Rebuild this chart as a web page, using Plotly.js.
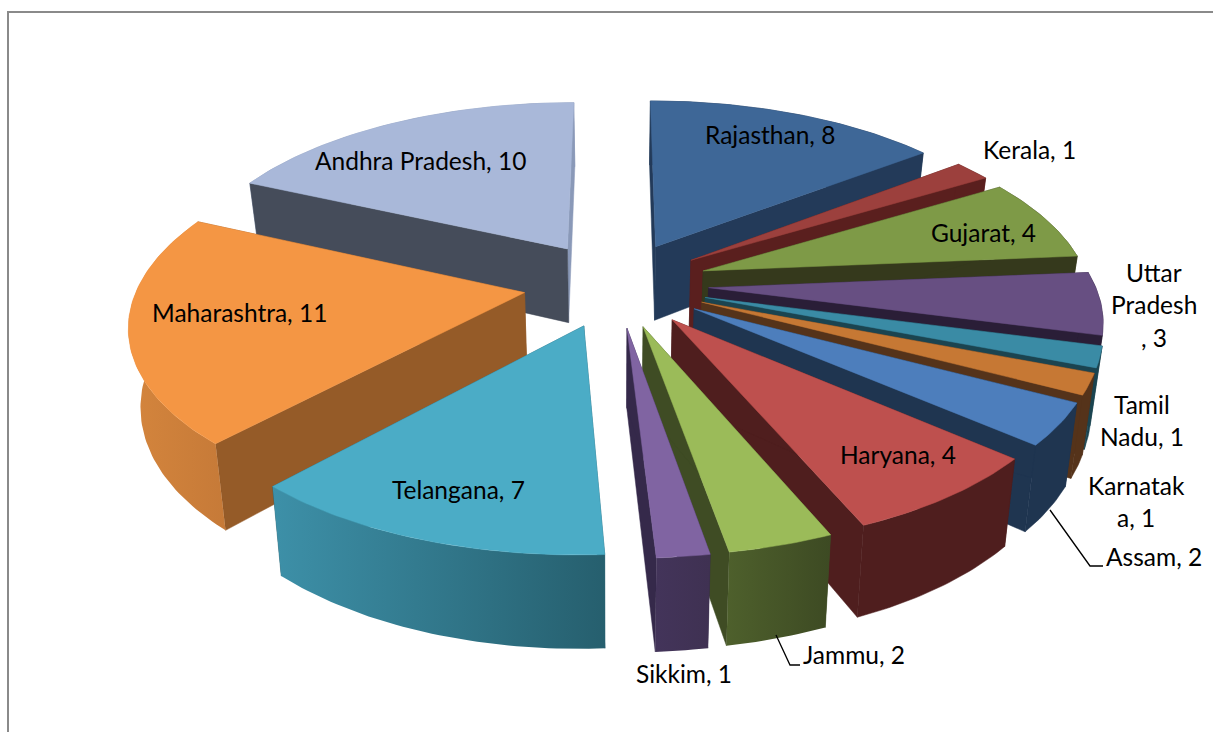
<!DOCTYPE html>
<html>
<head>
<meta charset="utf-8">
<script src="https://cdn.plot.ly/plotly-3.0.1.min.js"></script>
<style>html,body{margin:0;padding:0;background:#fff}#chart{width:1213px;height:732px}</style>
</head>
<body>
<div id="chart"></div>
<script>
// --- data ---
const states = ["Rajasthan","Kerala","Gujarat","Uttar Pradesh","Tamil Nadu","Karnataka","Assam","Haryana","Jammu","Sikkim","Telangana","Maharashtra","Andhra Pradesh"];
const counts = [8,1,4,3,1,1,2,4,2,1,7,11,10];

// --- style ---
const topColors  = ["#3E6797","#9C403D","#7E9A47","#674F82","#3A8BA5","#C67834","#4D7EBC","#BE504E","#9BBB59","#8064A2","#4BACC6","#F49644","#A9B8D9"];
const sideColors = ["#233A59","#5A1F1E","#35391C","#2A1E37","#1B4450","#55331A","#1F3550","#4F1E1E","#3F4C24","#35294A","#265F6E","#955B28","#454C5A"];
const endColors  = ["#233A59","#5A1F1E","#35391C","#2A1E37","#1B4450","#55331A","#1F3550","#4F1E1E","#3F4C24","#35294A","#265F6E","#955B28","#8A99B8"];
const rimLeft    = ["#233A59","#5A1F1E","#35391C","#2A1E37","#1B4450","#55331A","#1F3550","#4F1E1E","#4E602C","#43345A","#3D90A8","#D4853D","#8A99B8"];
const rimRight   = ["#233A59","#5A1F1E","#35391C","#2A1E37","#1B4450","#55331A","#1F3550","#4F1E1E","#3D4A23","#3F3152","#265F6E","#C67A38","#8A99B8"];

// --- projection of the tilted pie ---
const cx = 616, cy = 284, Rx = 386, Ry = 179, persp = 0.155, depth = 76, pull = 0.24, bottomShrink = 0.975;
const rad = d => d * Math.PI / 180;
const total = counts.reduce((a, b) => a + b, 0);

function project(r, deg, midDeg, z) {
  const u = pull * Math.sin(rad(midDeg)) + r * Math.sin(rad(deg));
  const v = pull * Math.cos(rad(midDeg)) + r * Math.cos(rad(deg));
  const s = 1 / (1 + persp * v);
  const k = z ? bottomShrink : 1;
  return [cx + u * Rx * s * k, cy - v * Ry * s + (z ? depth * s : 0)];
}
function poly(name, pts, color, gradient) {
  const t = {
    type: "scatter", mode: "lines", name: name, hoverinfo: "name", showlegend: false,
    x: pts.map(p => p[0]).concat(pts[0][0]), y: pts.map(p => p[1]).concat(pts[0][1]),
    fill: "toself", line: {width: 0.5, color: color}, fillcolor: color
  };
  if (gradient && gradient[0] !== gradient[1]) {
    t.fillgradient = {type: "horizontal", colorscale: [[0, gradient[0]], [1, gradient[1]]]};
    t.line = {width: 0};
    delete t.fillcolor;
  }
  return t;
}

let acc = 0;
const slices = counts.map((c, i) => {
  const start = acc / total * 360; acc += c;
  const end = acc / total * 360;
  return {i, start, end, mid: (start + end) / 2};
});
const order = slices.slice().sort((a, b) => Math.cos(rad(b.mid)) - Math.cos(rad(a.mid)));

const traces = [];
order.forEach(sl => {
  const name = states[sl.i];
  const arc = z => {
    const out = [], n = Math.max(4, Math.ceil(sl.end - sl.start));
    for (let j = 0; j <= n; j++) out.push(project(1, sl.start + (sl.end - sl.start) * j / n, sl.mid, z));
    return out;
  };
  const apexT = project(0, 0, sl.mid, 0), apexB = project(0, 0, sl.mid, 1);
  const arcT = arc(0), arcB = arc(1);
  const rim = poly(name, arcT.concat(arcB.slice().reverse()), rimLeft[sl.i], [rimLeft[sl.i], rimRight[sl.i]]);
  const backHalf = Math.cos(rad(sl.mid)) > 0;
  if (backHalf) traces.push(rim);
  traces.push(poly(name, [apexT, arcT[arcT.length - 1], arcB[arcB.length - 1], apexB], endColors[sl.i]));
  traces.push(poly(name, [apexT, arcT[0], arcB[0], apexB], sideColors[sl.i]));
  if (!backHalf) traces.push(rim);
  traces.push(poly(name, [apexT].concat(arcT), topColors[sl.i]));
});

// --- labels: one anchor per printed line ---
const labelLines = [
  ["Rajasthan, 8"],["Kerala, 1"],["Gujarat, 4"],["Uttar","Pradesh",", 3"],["Tamil","Nadu, 1"],["Karnatak","a, 1"],
  ["Assam, 2"],["Haryana, 4"],["Jammu, 2"],["Sikkim, 1"],["Telangana, 7"],["Maharashtra, 11"],["Andhra Pradesh, 10"]
];
const labelX = [770,1029,983,1154,1142,1136,1154,898,854,684,458,239,420];
const labelY = [134,149,232,272,404,485,556,454,654,673,489,312,160];
const lineGap = 32.5;
const annotations = [];
labelLines.forEach((lines, i) => lines.forEach((txt, j) => annotations.push({
  x: labelX[i], y: labelY[i] + j * lineGap, xref: "x", yref: "y", text: txt, showarrow: false,
  xanchor: "center", yanchor: "middle", font: {family: "Lato, Carlito, sans-serif", size: 24.5, color: "#000"}
})));

// leader lines
[[[1050,1090,1103],[510,566,566]], [[776,790,800],[635,665,665]]].forEach(l => traces.push({
  type: "scatter", mode: "lines", x: l[0], y: l[1], hoverinfo: "skip", showlegend: false, line: {color: "#000", width: 1.3}
}));

const layout = {
  width: 1213, height: 732, margin: {l: 0, r: 0, t: 0, b: 0}, showlegend: false,
  paper_bgcolor: "#fff", plot_bgcolor: "#fff",
  xaxis: {range: [0, 1213], visible: false, fixedrange: true},
  yaxis: {range: [732, 0], visible: false, fixedrange: true},
  annotations: annotations,
  shapes: [
    {type: "line", xref: "x", yref: "y", x0: 8, x1: 1213, y0: 12, y1: 12, line: {color: "#8A8A8A", width: 2}},
    {type: "line", xref: "x", yref: "y", x0: 8, x1: 8, y0: 11, y1: 732, line: {color: "#8A8A8A", width: 2}}
  ]
};
Plotly.newPlot("chart", traces, layout, {displayModeBar: false});
</script>
</body>
</html>
